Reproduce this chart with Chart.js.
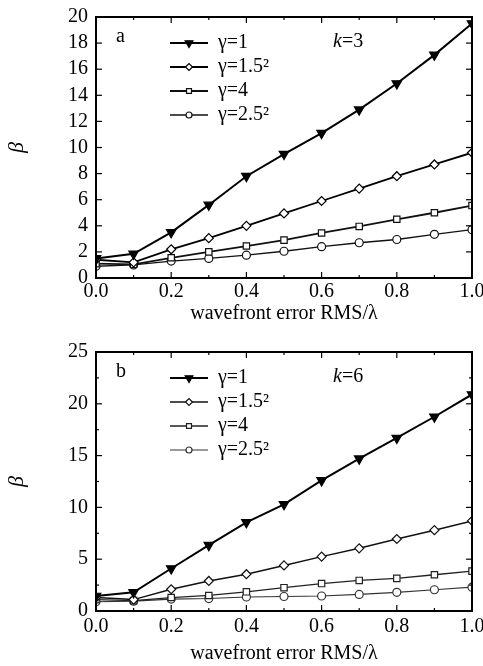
<!DOCTYPE html>
<html>
<head>
<meta charset="utf-8">
<script src="https://cdn.jsdelivr.net/npm/chart.js@4.4.1/dist/chart.umd.min.js"></script>
<style>
  html, body { margin: 0; padding: 0; background: #fff; overflow: hidden; width: 483px; height: 666px; }
  .panel { position: absolute; left: 0; }
  #wrapA { top: 0; }
  #wrapB { top: 333px; }
</style>
</head>
<body>
<div class="panel" id="wrapA"><canvas id="chartA" width="483" height="333"></canvas></div>
<div class="panel" id="wrapB"><canvas id="chartB" width="483" height="333"></canvas></div>
<script>
// wavefront error RMS / lambda
const errRms = [0, 0.1, 0.2, 0.3, 0.4, 0.5, 0.6, 0.7, 0.8, 0.9, 1.0];
const xTickLabels = ['0.0', '0.2', '0.4', '0.6', '0.8', '1.0'];
const seriesNames = ['γ=1', 'γ=1.5²', 'γ=4', 'γ=2.5²'];

// panel a, k=3
const betaA_g1   = [1.5, 1.85, 3.5, 5.6, 7.8, 9.5, 11.1, 12.9, 14.9, 17.1, 19.5];
const betaA_g15  = [1.4, 1.2, 2.2, 3.05, 4.0, 4.95, 5.9, 6.85, 7.8, 8.7, 9.6];
const betaA_g4   = [1.1, 1.05, 1.55, 2.0, 2.45, 2.9, 3.45, 3.95, 4.5, 5.0, 5.55];
const betaA_g25  = [0.9, 1.0, 1.3, 1.5, 1.75, 2.05, 2.4, 2.7, 2.95, 3.35, 3.7];
const yTicksA = ['0', '2', '4', '6', '8', '10', '12', '14', '16', '18', '20'];

// panel b, k=6
const betaB_g1   = [1.45, 1.8, 4.1, 6.35, 8.55, 10.3, 12.6, 14.7, 16.7, 18.75, 20.9];
const betaB_g15  = [1.3, 1.1, 2.1, 2.9, 3.55, 4.4, 5.25, 6.05, 6.95, 7.8, 8.7];
const betaB_g4   = [1.1, 1.0, 1.3, 1.5, 1.85, 2.25, 2.65, 2.95, 3.15, 3.5, 3.85];
const betaB_g25  = [0.9, 0.95, 1.15, 1.2, 1.35, 1.4, 1.45, 1.6, 1.8, 2.05, 2.3];
const yTicksB = ['0', '5', '10', '15', '20', '25'];

const SERIF = "'Liberation Serif', 'Times New Roman', serif";

// marker look per series
const markers = [
  { style: 'triangle', rotation: 180, radius: 5.5, fill: '#000' },
  { style: 'rectRot', rotation: 0, radius: 4.5, fill: '#fff' },
  { style: 'rect', rotation: 0, radius: 4.5, fill: '#fff' },
  { style: 'circle', rotation: 0, radius: 4, fill: '#fff' }
];

// small line+marker picture used as legend sample
function legendIcon(m, lw, color) {
  const c = document.createElement('canvas');
  c.width = 38; c.height = 14;
  const g = c.getContext('2d');
  g.strokeStyle = color;
  g.fillStyle = m.fill;
  g.lineWidth = lw;
  g.beginPath(); g.moveTo(0, 7); g.lineTo(38, 7); g.stroke();
  g.lineWidth = 1.2;
  Chart.helpers.drawPoint(g, { pointStyle: m.style, rotation: m.rotation, radius: m.radius - 1, borderWidth: 1.2 }, 19, 7);
  return c;
}

// boxed frame with inward ticks, panel letter and k label
const framePlugin = {
  id: 'frame',
  afterDatasetsDraw(chart, args, opts) {
    const { ctx, chartArea: a, scales: { x, y } } = chart;
    ctx.save();
    ctx.strokeStyle = '#000';
    ctx.lineWidth = 1.2;
    const seg = (x1, y1, x2, y2) => { ctx.beginPath(); ctx.moveTo(x1, y1); ctx.lineTo(x2, y2); ctx.stroke(); };
    const xv = x.ticks.map(t => t.value);
    xv.forEach((v, i) => {
      const p = x.getPixelForValue(v);
      seg(p, a.bottom, p, a.bottom - 6);
      seg(p, a.top, p, a.top + 6);
      if (i > 0) {
        const m = x.getPixelForValue((v + xv[i - 1]) / 2);
        seg(m, a.bottom, m, a.bottom - 3);
        seg(m, a.top, m, a.top + 3);
      }
    });
    const yv = y.ticks.map(t => t.value);
    yv.forEach((v, i) => {
      const p = y.getPixelForValue(v);
      seg(a.left, p, a.left + 6, p);
      seg(a.right, p, a.right - 6, p);
      if (i > 0 && opts.yMinor) {
        const m = y.getPixelForValue((v + yv[i - 1]) / 2);
        seg(a.left, m, a.left + 3, m);
        seg(a.right, m, a.right - 3, m);
      }
    });
    ctx.lineWidth = 2;
    ctx.strokeRect(a.left, a.top, a.width, a.height);

    ctx.fillStyle = '#000';
    ctx.textBaseline = 'middle';
    ctx.font = '20px ' + SERIF;
    ctx.fillText(opts.letter, a.left + 20, a.top + 20);
    ctx.font = 'italic 20px ' + SERIF;
    ctx.fillText('k', a.left + 237, a.top + 25);
    const kw = ctx.measureText('k').width;
    ctx.font = '20px ' + SERIF;
    ctx.fillText('=' + opts.k, a.left + 237 + kw, a.top + 25);
    ctx.restore();
  }
};

// move the legend into the upper part of the plot box
const legendSpot = {
  id: 'legendSpot',
  afterLayout(chart, args, opts) {
    const lg = chart.legend;
    if (!lg) return;
    const w = lg.width, h = lg.height;
    lg.left = chart.chartArea.left + opts.dx;
    lg.top = chart.chartArea.top + opts.dy;
    lg.right = lg.left + w;
    lg.bottom = lg.top + h;
  }
};

function makePanel(id, series, widths, colors, yMax, yStep, yLabels, cfg) {
  const datasets = series.map((vals, i) => ({
    label: seriesNames[i],
    data: errRms.map((e, j) => ({ x: e, y: vals[j] })),
    borderColor: colors[i],
    borderWidth: widths[i],
    pointStyle: markers[i].style,
    rotation: markers[i].rotation,
    pointRadius: markers[i].radius,
    pointBackgroundColor: markers[i].fill,
    pointBorderColor: colors[i],
    pointBorderWidth: 1.2,
    tension: 0,
    fill: false
  }));

  return new Chart(document.getElementById(id), {
    type: 'line',
    data: { datasets },
    plugins: [framePlugin, legendSpot],
    options: {
      responsive: false,
      animation: false,
      events: [],
      layout: { padding: { top: cfg.top, right: 11, left: 0, bottom: 0 } },
      scales: {
        x: {
          type: 'linear',
          min: 0, max: 1,
          ticks: {
            stepSize: 0.2,
            autoSkip: false,
            color: '#000',
            padding: cfg.xPad,
            maxRotation: 0,
            font: { family: SERIF, size: 20 },
            callback: (v, i) => xTickLabels[i]
          },
          grid: { display: false, drawTicks: false },
          border: { display: false },
          title: {
            display: true,
            text: 'wavefront error RMS/λ',
            color: '#000',
            font: { family: SERIF, size: 20 },
            padding: { top: 0, bottom: cfg.titlePad }
          },
          afterFit: s => { s.height = cfg.xHeight; s.paddingLeft = 0; s.paddingRight = 0; }
        },
        y: {
          min: 0, max: yMax,
          ticks: {
            stepSize: yStep,
            autoSkip: false,
            color: '#000',
            padding: 8,
            font: { family: SERIF, size: 20 },
            callback: (v, i) => yLabels[i]
          },
          grid: { display: false, drawTicks: false },
          border: { display: false },
          title: {
            display: true,
            text: 'β',
            color: '#000',
            font: { family: SERIF, size: 22, style: 'italic' },
            padding: { top: 4, bottom: 0 }
          },
          afterFit: s => { s.width = 96; s.paddingTop = 0; s.paddingBottom = 0; }
        }
      },
      plugins: {
        tooltip: { enabled: false },
        legend: {
          position: 'chartArea',
          align: 'start',
          labels: {
            usePointStyle: true,
            pointStyleWidth: 38,
            boxHeight: 14,
            padding: 4,
            color: '#000',
            font: { family: SERIF, size: 20 },
            generateLabels: chart => chart.data.datasets.map((d, i) => ({
              text: d.label,
              pointStyle: legendIcon(markers[i], widths[i], colors[i]),
              fontColor: '#000',
              lineWidth: 0,
              datasetIndex: i
            }))
          }
        },
        frame: { letter: cfg.letter, k: cfg.k, yMinor: cfg.yMinor },
        legendSpot: { dx: 70, dy: 12 }
      }
    }
  });
}

makePanel('chartA',
  [betaA_g1, betaA_g15, betaA_g4, betaA_g25],
  [2, 1.8, 1.8, 1.3],
  ['#000', '#000', '#111', '#111'],
  20, 2, yTicksA,
  { top: 17, xHeight: 55, xPad: 2, titlePad: 7, letter: 'a', k: 3, yMinor: false });

makePanel('chartB',
  [betaB_g1, betaB_g15, betaB_g4, betaB_g25],
  [2, 1.5, 1.3, 1.1],
  ['#000', '#111', '#222', '#333'],
  25, 5, yTicksB,
  { top: 19, xHeight: 55, xPad: 4, titlePad: 0, letter: 'b', k: 6, yMinor: true });
</script>
</body>
</html>
